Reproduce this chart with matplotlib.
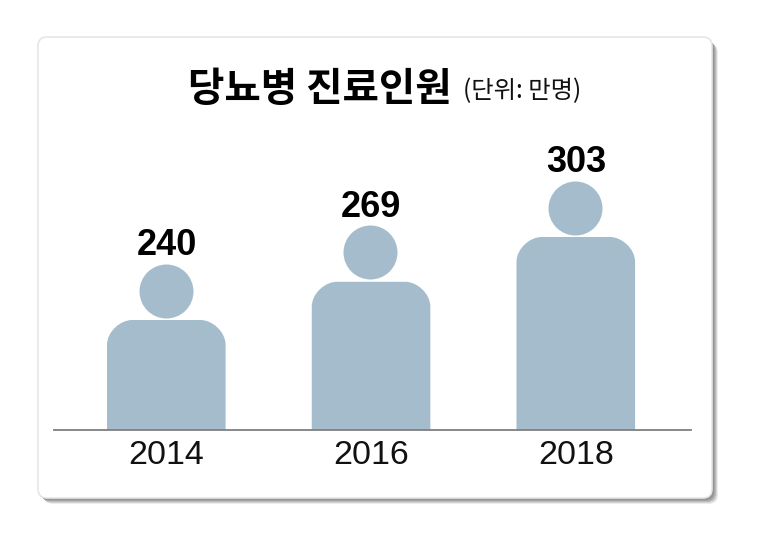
import matplotlib
matplotlib.use("Agg")
import matplotlib.pyplot as plt
from matplotlib.patches import FancyBboxPatch, PathPatch
from matplotlib.path import Path
from matplotlib.transforms import IdentityTransform, offset_copy

years = ["2014", "2016", "2018"]
patients = [240, 269, 303]
title = "당뇨병 진료인원"
unit = "(단위: 만명)"

W, H = 757, 543
BAR = "#a5bccd"
KR = ["Noto Sans CJK KR", "DejaVu Sans"]
NUM = ["Liberation Sans", "DejaVu Sans"]

fig = plt.figure(figsize=(W / 100, H / 100), dpi=100, facecolor="white")

def card(x0, y0, x1, y1, color, z, lw=0, ec="none"):
    r = 9
    p = FancyBboxPatch((x0 + r, H - y1 + r), x1 - x0 - 2 * r, y1 - y0 - 2 * r,
                       boxstyle=f"round,pad={r},rounding_size={r}",
                       fc=color, ec=ec, lw=lw, transform=IdentityTransform(), zorder=z)
    fig.add_artist(p)

for d, c in [(6, "#ececec"), (5, "#d4d4d4"), (4, "#bababa"), (3, "#a4a4a4"), (2, "#949494"), (1, "#8c8c8c")]:
    card(38 + d, 38 + d, 712 + d, 498 + d, c, 1)
card(38, 37, 712, 498, "white", 2, lw=1.2, ec="#e6e6e6")

# axes: x from 54 to 691 px, bottom (baseline) at y=430 px, top at y=60 px
L, R, BOT, TOP = 54, 691, 430, 60
ax = fig.add_axes([L / W, 1 - BOT / H, (R - L) / W, (BOT - TOP) / H], zorder=3)
ax.patch.set_alpha(0)
px_per_unit = 83 / 63
base = patients[0] - 110 / px_per_unit
ax.set_ylim(base, base + (BOT - TOP) / px_per_unit)
step = 204.75
ax.set_xlim(-(166.5 - L) / step, (R - 166.5) / step)
for s in ["top", "left", "right"]:
    ax.spines[s].set_visible(False)
ax.spines["bottom"].set_color("#7f7f7f")
ax.spines["bottom"].set_linewidth(1.3)
ax.spines["bottom"].set_zorder(5)
ax.set_yticks([])
ax.set_xticks(range(len(years)), years, fontfamily=NUM, fontsize=24.5, color="#111111")
ax.tick_params(axis="x", length=0, pad=7)

half = 59.5 / step
rx = 25 / step
ry = 25 / px_per_unit
k = 0.45
for i, v in enumerate(patients):
    xl, xr = i - half, i + half - 0.002
    verts = [(xl, base), (xl, v - ry), (xl, v - ry * k), (xl + rx * (1 - k), v), (xl + rx, v),
             (xr - rx, v), (xr - rx * (1 - k), v), (xr, v - ry * k), (xr, v - ry), (xr, base), (xl, base)]
    codes = [Path.MOVETO, Path.LINETO, Path.CURVE4, Path.CURVE4, Path.CURVE4, Path.LINETO,
             Path.CURVE4, Path.CURVE4, Path.CURVE4, Path.LINETO, Path.CLOSEPOLY]
    ax.add_patch(PathPatch(Path(verts, codes), fc=BAR, ec="none", zorder=2, clip_on=False))
    head = offset_copy(ax.transData, fig=fig, x=-1 * 0.72, y=29.5 * 0.72, units="points")
    ax.scatter([i], [v], s=(54 * 0.72) ** 2, c=BAR, linewidths=0, transform=head, zorder=2, clip_on=False)
    ax.annotate(str(v), (i, v), xytext=(0, 65 * 0.72), textcoords="offset points",
                ha="center", va="baseline", fontfamily=NUM, fontsize=26, fontweight="bold", color="black")

fig.text(188 / W, 1 - 101 / H, title, fontfamily=KR, fontsize=28.5, fontweight="bold",
         color="black", ha="left", va="baseline", zorder=4)
fig.text(463 / W, 1 - 98 / H, unit, fontfamily=KR, fontsize=17.5, color="#111111",
         ha="left", va="baseline", zorder=4)

fig.savefig("out.png", dpi=100, facecolor="white")
